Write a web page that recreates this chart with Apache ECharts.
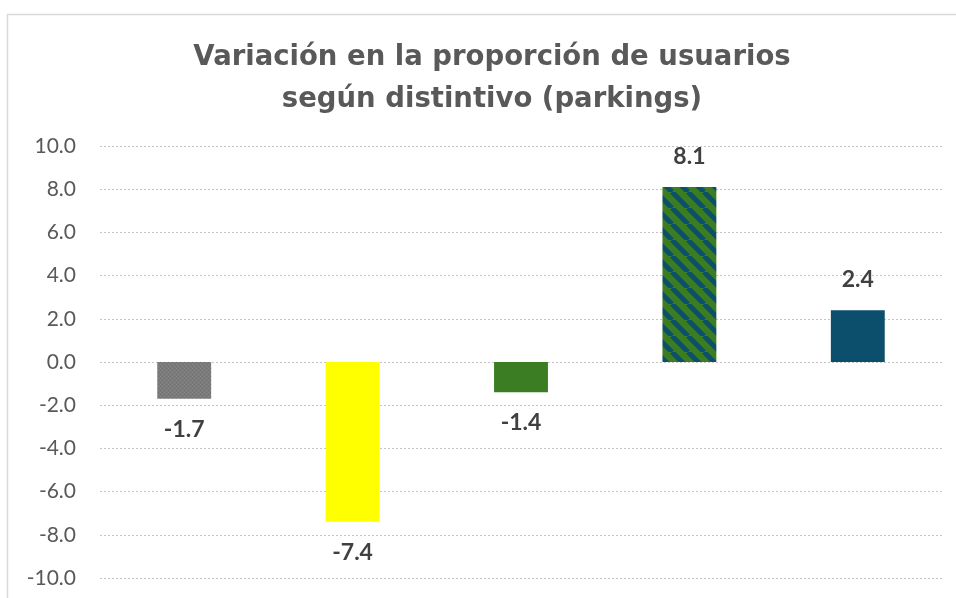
<!DOCTYPE html>
<html>
<head>
<meta charset="utf-8">
<script src="https://cdn.jsdelivr.net/npm/echarts@6/dist/echarts.min.js"></script>
<style>
  html, body { margin: 0; padding: 0; background: #ffffff; }
  #chart { width: 956px; height: 598px; }
</style>
</head>
<body>
<div id="chart"></div>
<script>
// Badge categories and change in share of users (percentage points)
const categories = ['Sin distintivo', 'B', 'C', 'ECO', 'CERO'];
const values = [-1.7, -7.4, -1.4, 8.1, 2.4];
const yTicks = { min: -10, max: 10, step: 2 };

// Tiled fills for the textured bars
function makeStripePattern() {
  const c = document.createElement('canvas');
  c.width = 16; c.height = 16;
  const g = c.getContext('2d');
  g.fillStyle = '#3b7d23';
  g.fillRect(0, 0, 16, 16);
  g.strokeStyle = '#0b4f6c';
  g.lineWidth = 5;
  for (const off of [-16, 0, 16]) {
    g.beginPath();
    g.moveTo(off, 0);
    g.lineTo(off + 16, 16);
    g.stroke();
  }
  return c;
}
function makeGrainPattern() {
  const c = document.createElement('canvas');
  c.width = 4; c.height = 4;
  const g = c.getContext('2d');
  g.fillStyle = '#7b7b7b';
  g.fillRect(0, 0, 4, 4);
  g.fillStyle = '#868686';
  g.fillRect(0, 0, 1, 1);
  g.fillRect(2, 2, 1, 1);
  g.fillStyle = '#727272';
  g.fillRect(2, 0, 1, 1);
  g.fillRect(0, 2, 1, 1);
  return c;
}

const barFills = [
  { image: makeGrainPattern(), repeat: 'repeat' },
  '#ffff00',
  '#3b7d23',
  { image: makeStripePattern(), repeat: 'repeat' },
  '#0b4f6c'
];

const chart = echarts.init(document.getElementById('chart'), null, { renderer: 'canvas' });
chart.setOption({
  backgroundColor: '#ffffff',
  animation: false,
  graphic: [{
    type: 'rect',
    shape: { x: 7.5, y: 14.5, width: 1000, height: 1000 },
    style: { fill: 'none', stroke: '#d9d9d9', lineWidth: 1.5 },
    silent: true
  }],
  title: {
    text: 'Variación en la proporción de usuarios\nsegún distintivo (parkings)',
    left: 487,
    textAlign: 'center',
    top: 32,
    textStyle: {
      fontFamily: 'DejaVu Sans',
      fontWeight: 'bold',
      fontSize: 27.5,
      lineHeight: 42,
      color: '#595959'
    }
  },
  grid: { left: 100, right: 14, top: 146, bottom: 20, containLabel: false },
  xAxis: {
    type: 'category',
    data: categories,
    axisLine: { show: false },
    axisTick: { show: false },
    axisLabel: { show: false }
  },
  yAxis: {
    type: 'value',
    min: yTicks.min,
    max: yTicks.max,
    interval: yTicks.step,
    axisLine: { show: false },
    axisTick: { show: false },
    axisLabel: {
      margin: 24,
      fontFamily: 'Lato',
      fontSize: 21,
      color: '#595959',
      formatter: v => v.toFixed(1)
    },
    splitLine: { lineStyle: { color: '#c4c4c4', width: 1, type: [2, 2] } }
  },
  series: [{
    type: 'bar',
    barWidth: '32%',
    data: values.map((v, i) => ({
      value: v,
      itemStyle: { color: barFills[i] },
      label: { position: v >= 0 ? 'top' : 'bottom' }
    })),
    label: {
      show: true,
      distance: 19,
      fontFamily: 'Lato',
      fontWeight: 'bold',
      fontSize: 23,
      color: '#404040',
      formatter: p => p.value.toFixed(1)
    }
  }]
});
</script>
</body>
</html>
